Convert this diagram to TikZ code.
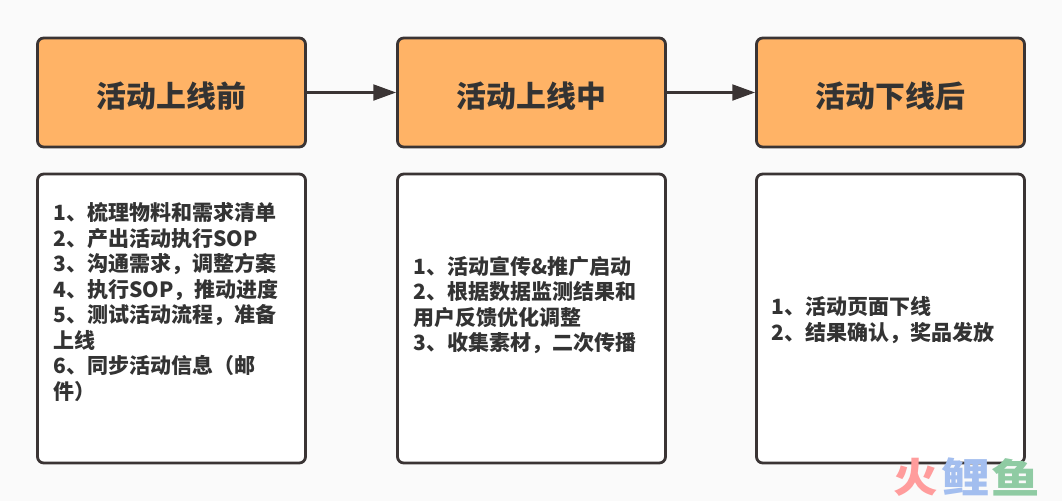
\documentclass[tikz,border=0pt]{standalone}
\usepackage{fontspec}
\setmainfont{Noto Sans CJK SC}
\usetikzlibrary{arrows.meta}
\definecolor{linegray}{HTML}{3A3434}
\definecolor{textgray}{HTML}{333333}
\definecolor{headorange}{HTML}{FFB366}
\definecolor{pagegray}{HTML}{FAFAFA}
\definecolor{markred}{HTML}{FF9C9C}
\definecolor{markblue}{HTML}{A3BEEF}
\definecolor{markgreen}{HTML}{8FCBA3}
\tikzset{
  headbox/.style={draw=linegray,line width=1.6pt,fill=headorange,rounded corners=3.5pt,
    minimum width=5.36cm,minimum height=2.18cm,text=textgray,text height=19pt,text depth=2pt,
    font=\fontsize{17}{20}\selectfont\bfseries},
  listbox/.style={draw=linegray,line width=1.6pt,fill=white,rounded corners=3.5pt,
    minimum width=5.36cm,minimum height=5.78cm},
  listtext/.style={anchor=west,align=left,inner sep=0pt,text=textgray,
    font=\fontsize{11.95}{14.5}\selectfont\bfseries},
  flowarrow/.style={draw=linegray,line width=1.5pt,-{Triangle[length=13pt,width=9pt]}},
  markglyph/.style={inner sep=0pt,font=\fontsize{23}{23}\selectfont\bfseries}
}
\begin{document}
\begin{tikzpicture}[x=0.02cm,y=-0.02cm]
  % 背景
  \fill[pagegray] (0,0) rectangle (1062,501);
  \useasboundingbox (0,0) rectangle (1062,501);

  % 上面三个框
  \node[headbox] (before) at (171.5,92.5) {活动上线前};
  \node[headbox] (during) at (531.5,92.5) {活动上线中};
  \node[headbox] (after) at (890.5,92.5) {活动下线后};

  \draw[flowarrow] (before) -- (during);
  \draw[flowarrow] (during) -- (after);

  % 下面三个框
  \node[listbox] (beforebox) at (171.5,318.5) {};
  \node[listbox] (duringbox) at (531.5,318.5) {};
  \node[listbox] (afterbox) at (890.5,318.5) {};

  \node[listtext] (beforetext) at (53,302) {1、梳理物料和需求清单\\2、产出活动执行SOP\\3、沟通需求，调整方案\\4、执行SOP，推动进度\\5、测试活动流程，准备\\上线\\6、同步活动信息（邮\\件）};
  \node[listtext] (duringtext) at (413,305) {1、活动宣传\&推广启动\\2、根据数据监测结果和\\用户反馈优化调整\\3、收集素材，二次传播};
  \node[listtext] (aftertext) at (771,320) {1、活动页面下线\\2、结果确认，奖品发放};

  % 水印
  \node[markglyph,text=markred] (markfire) at (916,477) {\scalebox{1.1}[1]{火}};
  \node[markglyph,text=markblue] (markcarp) at (965.5,477) {\scalebox{1.2}[1]{鲤}};
  \node[markglyph,text=markgreen] (markfish) at (1015.5,477) {\scalebox{1.2}[1]{鱼}};
\end{tikzpicture}
\end{document}
